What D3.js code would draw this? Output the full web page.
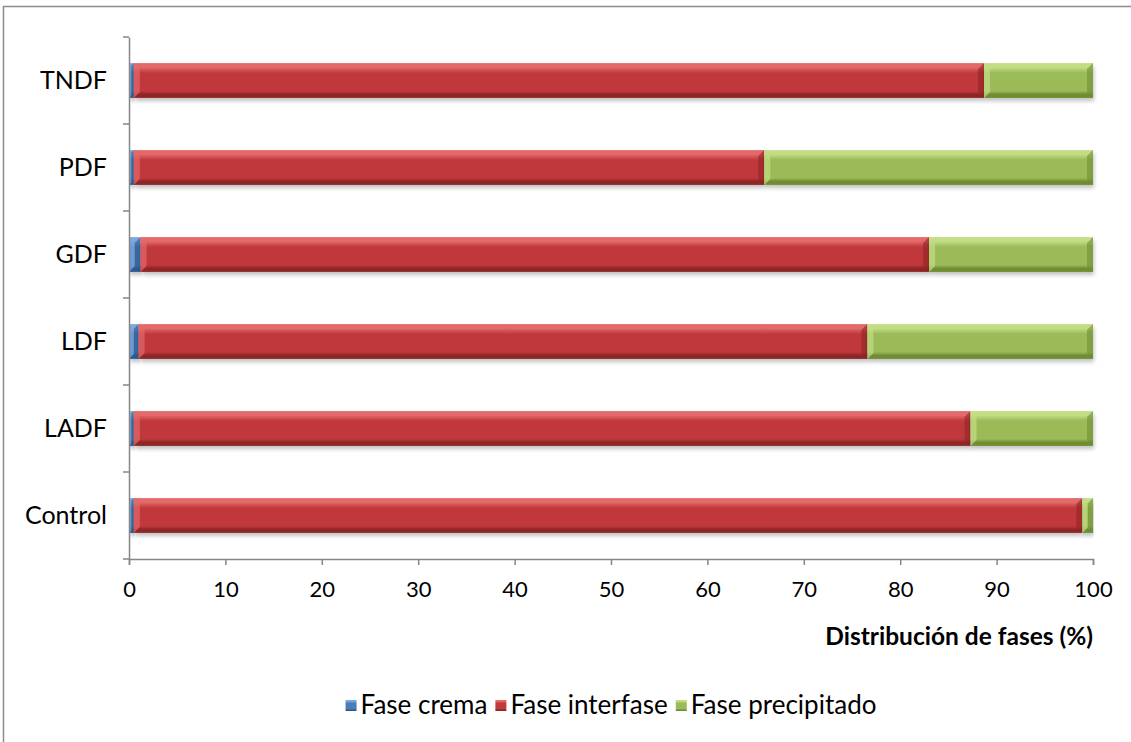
<!DOCTYPE html>
<html>
<head>
<meta charset="utf-8">
<script src="https://cdn.jsdelivr.net/npm/d3@7"></script>
<style>
  html, body { margin: 0; padding: 0; background: #fff; }
  svg { display: block; }
  text { font-family: Lato, "Open Sans", sans-serif; fill: #000; }
</style>
</head>
<body>
<svg id="chart" width="1131" height="742"></svg>
<script>
// Treatments, listed bottom to top as drawn
const categories = ["Control", "LADF", "LDF", "GDF", "PDF", "TNDF"];
// Phase distribution (%) for each treatment
const faseCrema       = [0.5, 0.5, 1.0, 1.2, 0.5, 0.5];
const faseInterfase   = [98.4, 86.8, 75.6, 81.8, 65.4, 88.2];
const fasePrecipitado = [1.1, 12.7, 23.4, 17.0, 34.1, 11.3];
const seriesNames = ["Fase crema", "Fase interfase", "Fase precipitado"];
const xTicks = [0, 10, 20, 30, 40, 50, 60, 70, 80, 90, 100];
const xTitle = "Distribución de fases (%)";

const svg = d3.select("#chart");
const W = 1131, H = 742;
const margin = { left: 129, right: W - 1093, top: 37, bottom: H - 559 };

// Outer chart frame (only left and top edges fall inside the view)
svg.append("path")
  .attr("d", `M3.5,${H} L3.5,6.5 L${W},6.5`)
  .attr("fill", "none").attr("stroke", "#8c8c8c").attr("stroke-width", 1.5);

const palette = [
  { base: "#4a7ebb", light: "#7fa8da", dark: "#2f5a8f" },
  { base: "#c0393b", light: "#e46a6b", dark: "#8f2526" },
  { base: "#9bbb59", light: "#c3dd85", dark: "#6f8d33" }
];

const defs = svg.append("defs");
palette.forEach((p, i) => {
  const g = defs.append("linearGradient").attr("id", "grad" + i)
    .attr("x1", 0).attr("y1", 0).attr("x2", 0).attr("y2", 1);
  g.append("stop").attr("offset", "0%").attr("stop-color", p.light);
  g.append("stop").attr("offset", "12%").attr("stop-color", p.light);
  g.append("stop").attr("offset", "28%").attr("stop-color", p.base);
  g.append("stop").attr("offset", "80%").attr("stop-color", p.base);
  g.append("stop").attr("offset", "90%").attr("stop-color", p.dark);
  g.append("stop").attr("offset", "100%").attr("stop-color", p.dark);
});
const shadow = defs.append("filter").attr("id", "shadow")
  .attr("x", "-5%").attr("y", "-20%").attr("width", "110%").attr("height", "160%");
shadow.append("feGaussianBlur").attr("in", "SourceAlpha").attr("stdDeviation", 2).attr("result", "b");
shadow.append("feOffset").attr("in", "b").attr("dx", 1).attr("dy", 3).attr("result", "o");
shadow.append("feComponentTransfer").attr("in", "o").attr("result", "s")
  .append("feFuncA").attr("type", "linear").attr("slope", 0.25);
const merge = shadow.append("feMerge");
merge.append("feMergeNode").attr("in", "s");
merge.append("feMergeNode").attr("in", "SourceGraphic");

const x = d3.scaleLinear().domain([0, 100]).range([margin.left, W - margin.right]);
const y = d3.scaleBand().domain(categories.slice().reverse())
  .range([margin.top, H - margin.bottom]).paddingInner(0.6).paddingOuter(0.3);

const rows = categories.map((c, i) => ({
  cat: c, "Fase crema": faseCrema[i], "Fase interfase": faseInterfase[i], "Fase precipitado": fasePrecipitado[i]
}));
const stacked = d3.stack().keys(seriesNames)(rows);

const layers = svg.append("g").selectAll("g").data(stacked).join("g");
layers.each(function(layer, li) {
  const p = palette[li];
  const g = d3.select(this);
  layer.forEach(d => {
    const x0 = x(d[0]), x1 = x(d[1]), yy = y(d.data.cat), h = y.bandwidth();
    const w = Math.max(0, x1 - x0);
    const seg = g.append("g");
    seg.append("rect").attr("x", x0).attr("y", yy).attr("width", w).attr("height", h)
      .attr("fill", `url(#grad${li})`).attr("filter", "url(#shadow)");
    // bevelled ends: light wedge on the left, dark strip on the right
    const bv = Math.min(6, w / 2);
    seg.append("path")
      .attr("d", `M${x0},${yy} L${x0 + bv},${yy + bv} L${x0 + bv},${yy + h - bv} L${x0},${yy + h} Z`)
      .attr("fill", p.light).attr("opacity", 0.7);
    seg.append("path")
      .attr("d", `M${x1},${yy} L${x1 - bv},${yy + bv} L${x1 - bv},${yy + h - bv} L${x1},${yy + h} Z`)
      .attr("fill", p.dark).attr("opacity", 0.6);
  });
});

// Axes
const axisColor = "#868686";
const xAxis = svg.append("g").attr("transform", `translate(0,${H - margin.bottom})`)
  .call(d3.axisBottom(x).tickValues(xTicks).tickSize(6).tickPadding(16));
const yAxis = svg.append("g").attr("transform", `translate(${margin.left},0)`)
  .call(d3.axisLeft(y).tickSize(0).tickPadding(22));
[xAxis, yAxis].forEach(a => {
  a.select(".domain").attr("stroke", axisColor).attr("stroke-width", 1.5);
  a.selectAll(".tick line").attr("stroke", axisColor).attr("stroke-width", 1.5);
  a.selectAll("text").attr("fill", "#000");
});
yAxis.selectAll("text").style("font-size", "25px");
xAxis.selectAll("text").style("font-size", "22px");

// y-axis category separators
const yEdges = d3.range(categories.length + 1).map(i => margin.top + i * (H - margin.bottom - margin.top) / categories.length);
svg.append("g").selectAll("line").data(yEdges).join("line")
  .attr("x1", margin.left - 6).attr("x2", margin.left)
  .attr("y1", d => d).attr("y2", d => d)
  .attr("stroke", axisColor).attr("stroke-width", 1.5);

svg.append("text").attr("x", x(100)).attr("y", 645)
  .attr("text-anchor", "end").style("font-size", "24.5px").style("font-weight", "bold")
  .text(xTitle);

// Legend
const legend = svg.append("g").attr("transform", "translate(0,705)");
const items = legend.selectAll("g").data(seriesNames).join("g");
items.append("rect").attr("width", 11).attr("height", 11).attr("y", -5)
  .attr("fill", (d, i) => `url(#grad${i})`);
const ltext = items.append("text").attr("x", 15).attr("dy", "0.35em").style("font-size", "26px").text(d => d);
const widths = [];
ltext.each(function() { widths.push(15 + this.getComputedTextLength()); });
const gap = 8;
const total = d3.sum(widths) + gap * (widths.length - 1);
let cx = 611 - total / 2;
items.attr("transform", (d, i) => {
  const t = `translate(${cx},0)`; cx += widths[i] + gap; return t;
});
</script>
</body>
</html>
